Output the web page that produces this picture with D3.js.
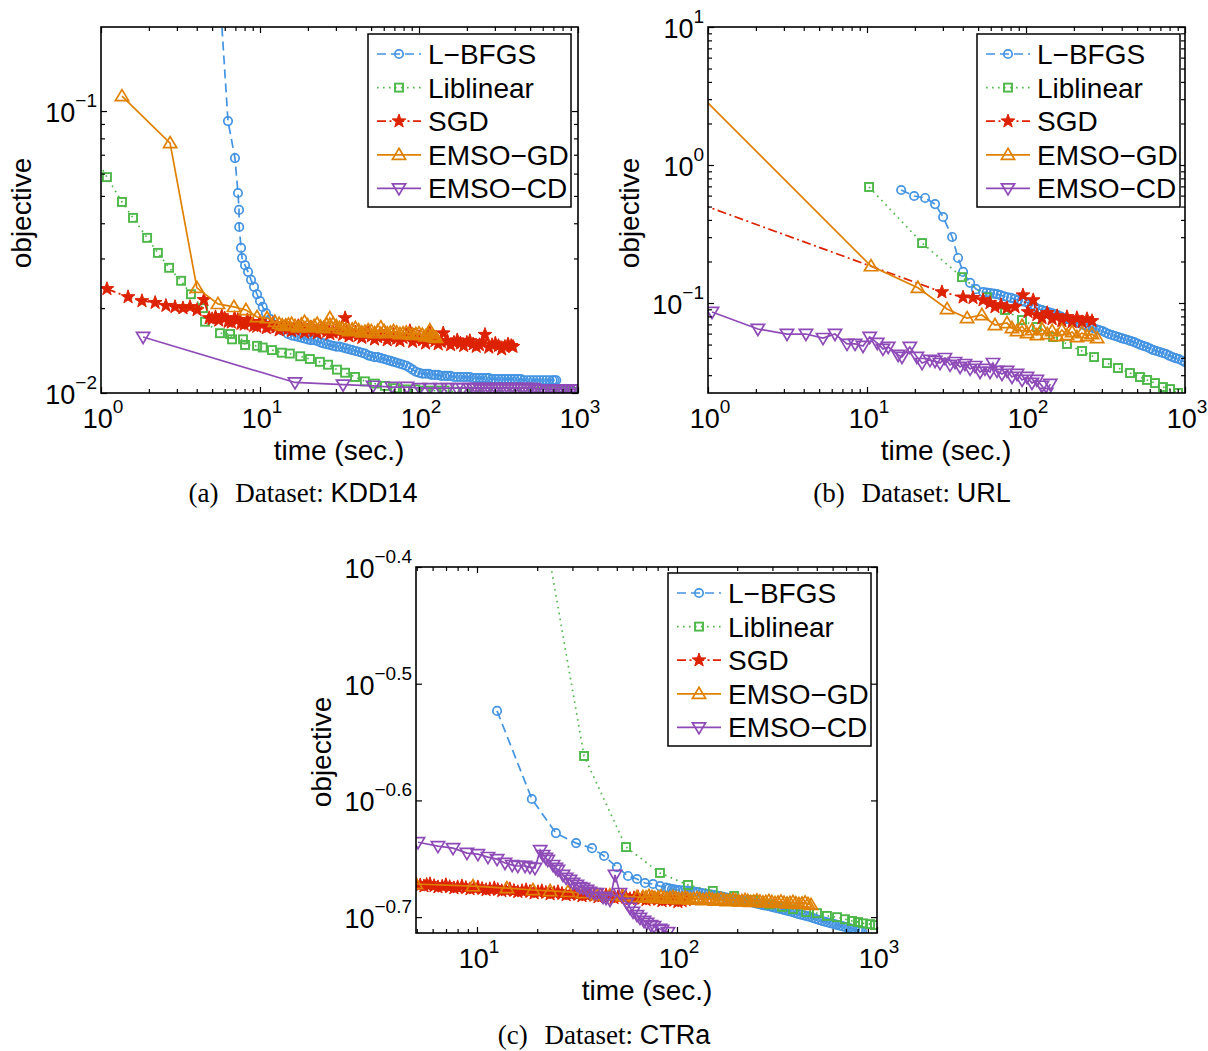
<!DOCTYPE html>
<html><head><meta charset="utf-8">
<script src="https://cdn.jsdelivr.net/npm/d3@7"></script>
<style>body{margin:0;background:#fff}svg{display:block}</style>
</head><body>
<svg id="chart" width="1208" height="1051"></svg>
<script>
// ---------------- DATA ----------------
const seriesNames = ["L\u2212BFGS","Liblinear","SGD","EMSO\u2212GD","EMSO\u2212CD"];

// tick values and labels (exponents of 10)
const xTicksAB = [1,10,100,1000];
const xTickExpAB = ["0","1","2","3"];
const yTicksA = [0.01,0.1];
const yTickExpA = ["\u22122","\u22121"];
const yTicksB = [0.1,1,10];
const yTickExpB = ["\u22121","0","1"];
const xTicksC = [10,100,1000];
const xTickExpC = ["1","2","3"];
const yTicksC = [0.19953,0.25119,0.31623,0.39811];
const yTickExpC = ["\u22120.7","\u22120.6","\u22120.5","\u22120.4"];

// (a) KDD14  [time (sec.), objective]
const kddLbfgs = [[5.4,0.35],[6.29,0.0921],[6.96,0.0681],[7.27,0.0512],[7.38,0.0446],[7.40,0.0388],[7.60,0.0327],[7.71,0.0301],[8.05,0.0284],[8.41,0.0269],[8.78,0.0252],[9.17,0.0238],[9.58,0.0224],[10.0,0.0212],[10.4,0.0202],[10.9,0.0192],[11.6,0.0183],[12.4,0.0174],[13.6,0.0167],[15.0,0.0162],[15.8,0.0160],[16.6,0.0159],[17.4,0.0158],[18.2,0.0157],[19.05,0.0156],[19.95,0.0155],[20.9,0.0154],[21.9,0.0154],[22.9,0.0153],[24.0,0.0151],[25.1,0.0150],[26.3,0.0149],[27.5,0.0148],[28.8,0.0147],[30.2,0.0146],[31.6,0.0146],[33.1,0.0145],[34.7,0.0144],[36.3,0.0143],[38.0,0.0142],[39.8,0.0141],[41.7,0.0140],[43.7,0.0139],[45.7,0.0138],[47.9,0.0136],[50.1,0.0135],[52.5,0.0134],[55.0,0.0134],[57.5,0.0133],[60.3,0.0132],[63.1,0.0131],[66.1,0.0130],[69.2,0.0129],[72.4,0.0128],[75.9,0.0127],[79.4,0.0126],[83.2,0.0125],[87.1,0.0123],[91.2,0.0121],[95.5,0.0119],[100,0.0118],[105,0.0117],[110,0.0117],[115,0.0117],[120,0.0116],[126,0.0116],[132,0.0116],[138,0.0115],[145,0.0115],[151,0.0115],[158,0.0115],[166,0.0114],[174,0.0114],[182,0.0114],[191,0.0114],[200,0.0114],[209,0.0114],[219,0.0113],[229,0.0113],[240,0.0113],[251,0.0113],[263,0.0113],[275,0.0113],[288,0.0112],[302,0.0112],[316,0.0112],[331,0.0112],[347,0.0112],[363,0.0112],[380,0.0112],[398,0.0112],[417,0.0112],[437,0.0112],[457,0.0111],[479,0.0111],[501,0.0111],[525,0.0111],[550,0.0111],[575,0.0111],[603,0.0111],[631,0.0111],[661,0.0111],[692,0.0111],[711,0.0111],[730,0.0111]];
const kddLiblinear = [[0.9,0.07],[1.09,0.0583],[1.355,0.0476],[1.59,0.0418],[1.95,0.0355],[2.28,0.0314],[2.68,0.0278],[3.19,0.0250],[3.68,0.0224],[4.38,0.0200],[4.51,0.0179],[5.6,0.0163],[6.48,0.0162],[6.67,0.0155],[7.82,0.0155],[8.05,0.0148],[9.58,0.0147],[10.4,0.0145],[11.9,0.0142],[13.7,0.0139],[15.4,0.0138],[17.9,0.0135],[20.6,0.0132],[23.8,0.0129],[26.8,0.0126],[30.5,0.0121],[34.3,0.0118],[39.6,0.0114],[45.7,0.0110],[52.8,0.0108],[61.1,0.0106],[70.6,0.0104],[81.6,0.0103],[94.4,0.0103],[109,0.0102],[126,0.0102],[145,0.0102],[168,0.0101],[195,0.0101],[225,0.0101],[260,0.0101],[300,0.0101],[350,0.0101],[400,0.0101],[460,0.0101],[530,0.0101],[610,0.0101],[700,0.0101],[800,0.0101],[920,0.0101]];
const kddSgd = [[1.09,0.0234],[1.48,0.0219],[1.81,0.0212],[2.19,0.0209],[2.56,0.0204],[2.92,0.0202],[3.28,0.0200],[3.63,0.0202],[4.02,0.0197],[4.44,0.0214],[4.79,0.01845],[5.0,0.0183],[5.25,0.0186],[5.5,0.0181],[5.75,0.01875],[6.0,0.0184],[6.31,0.0179],[6.6,0.0178],[6.92,0.01845],[7.25,0.0182],[7.59,0.0176],[7.95,0.0175],[8.32,0.01815],[8.7,0.0178],[9.12,0.0173],[9.55,0.0172],[10,0.0179],[10.5,0.0176],[10.96,0.0170],[11.5,0.0172],[12.0,0.0176],[12.6,0.0171],[13.2,0.0167],[13.8,0.0170],[14.5,0.0174],[15.1,0.0169],[15.8,0.0166],[16.6,0.0168],[17.4,0.0173],[18.2,0.0169],[19.05,0.0164],[19.95,0.0167],[20.9,0.0171],[21.9,0.0166],[22.9,0.0163],[24.0,0.0167],[25.1,0.0170],[26.3,0.0165],[27.5,0.0162],[28.8,0.0164],[30.2,0.0167],[31.6,0.0165],[33.1,0.0161],[34.3,0.01845],[36.3,0.0159],[38.0,0.0162],[39.8,0.0164],[41.7,0.0160],[43.7,0.0157],[45.7,0.0161],[47.9,0.0163],[50.1,0.0159],[52.5,0.0155],[55.0,0.0158],[57.5,0.0162],[60.3,0.0159],[63.1,0.0154],[66.1,0.0157],[69.2,0.0161],[72.4,0.0156],[75.9,0.0153],[79.4,0.0157],[83.2,0.0159],[87.7,0.0166],[91.2,0.0152],[95.5,0.0155],[100,0.0158],[105,0.0154],[110,0.0150],[115,0.0155],[117,0.0163],[120,0.0157],[126,0.0153],[132,0.0149],[138,0.0152],[142,0.0163],[151,0.0153],[158,0.0148],[166,0.0151],[174,0.0154],[182,0.0150],[191,0.0147],[200,0.0151],[209,0.0153],[219,0.0149],[229,0.0146],[240,0.0148],[251,0.0152],[260,0.0161],[275,0.0145],[288,0.0148],[302,0.0150],[316,0.0147],[331,0.0143],[347,0.0146],[363,0.0149],[380,0.0147],[390,0.0146]];
const kddEmsoGd = [[1.355,0.113],[2.72,0.077],[4.01,0.0236],[5.44,0.0207],[6.86,0.0202],[8.16,0.0197],[9.58,0.0186],[11.07,0.01845],[12.4,0.0179],[13.2,0.0176],[13.8,0.0174],[14.5,0.0173],[15.1,0.0175],[15.8,0.0176],[16.6,0.0173],[17.4,0.0171],[18.2,0.0175],[19.05,0.0179],[19.95,0.0174],[20.9,0.0171],[21.9,0.0173],[22.9,0.0176],[24.0,0.0172],[25.1,0.0170],[26.3,0.0175],[27.5,0.01845],[28.8,0.0176],[30.2,0.0173],[31.6,0.0170],[33.1,0.0169],[34.7,0.0168],[36.3,0.0166],[38.0,0.0168],[39.8,0.0170],[41.7,0.0167],[43.7,0.0164],[45.7,0.0165],[47.9,0.0167],[50.1,0.0166],[52.5,0.0163],[55.0,0.0166],[57.5,0.0171],[60.3,0.0166],[63.1,0.0163],[66.1,0.0164],[69.2,0.0166],[72.4,0.0164],[75.9,0.0162],[79.4,0.0163],[83.2,0.0164],[87.1,0.0162],[91.2,0.0161],[95.5,0.0162],[100,0.0163],[105,0.0161],[110,0.0159],[114,0.0162],[117,0.0167],[120,0.0159],[124,0.0158],[128,0.0157]];
const kddEmsoCd = [[1.84,0.0158],[16.6,0.0109],[33.3,0.0107],[51.4,0.0106],[67.6,0.0105],[84,0.0105],[101,0.0104],[117,0.0104],[136,0.0104],[152,0.0104],[173,0.0104],[189,0.0104],[209,0.0104],[219,0.0104],[229,0.0104],[240,0.0104],[251,0.0104],[263,0.0104],[275,0.0104],[288,0.0104],[302,0.0104],[316,0.0104],[331,0.0104],[347,0.0104],[363,0.0104],[380,0.0104],[398,0.0104],[417,0.0104],[437,0.0104],[457,0.0104],[479,0.0104],[501,0.0104],[525,0.0104],[550,0.0103],[575,0.0103],[603,0.0103],[631,0.0103],[661,0.0103],[692,0.0103],[725,0.0103],[759,0.0103],[795,0.0103],[832,0.0103],[871,0.0103],[912,0.0103],[955,0.0103],[1000,0.0103]];

// (b) URL
const urlLbfgs = [[16.4,0.659],[19.8,0.596],[23.2,0.577],[26.8,0.521],[30.1,0.420],[34.3,0.301],[37.4,0.212],[40.2,0.168],[44.5,0.140],[48.5,0.126],[53.7,0.120],[56.5,0.119],[59.4,0.118],[62.5,0.117],[65.7,0.116],[69,0.114],[72.7,0.112],[76.5,0.110],[80.5,0.109],[84.7,0.107],[89.1,0.105],[93.8,0.103],[98.6,0.102],[104,0.0995],[109,0.0968],[114,0.0935],[120,0.0906],[126,0.0890],[132,0.0875],[138,0.0861],[145,0.0847],[151,0.0833],[158,0.0819],[166,0.0798],[174,0.0778],[182,0.0765],[191,0.0753],[200,0.0740],[209,0.0728],[219,0.0710],[229,0.0693],[240,0.0681],[251,0.0670],[263,0.0659],[275,0.0648],[288,0.0637],[302,0.0627],[316,0.0611],[331,0.0596],[347,0.0586],[363,0.0577],[380,0.0567],[398,0.0557],[417,0.0548],[437,0.0539],[457,0.0530],[479,0.0521],[501,0.0509],[525,0.0497],[550,0.0488],[575,0.0480],[603,0.0468],[631,0.0456],[661,0.0449],[692,0.0442],[725,0.0434],[759,0.0427],[795,0.0416],[832,0.0406],[871,0.0399],[912,0.0393],[955,0.0383],[1000,0.0373]];
const urlLiblinear = [[10.3,0.693],[22.2,0.272],[39.6,0.154],[56.9,0.110],[73.8,0.0890],[94.4,0.0753],[117,0.0670],[148,0.0567],[181,0.0505],[225,0.0449],[268,0.0406],[323,0.0367],[379,0.0338],[451,0.0311],[521,0.0291],[577,0.0277],[648,0.0263],[727,0.0246],[805,0.0238],[904,0.0223]];
const urlSgd = [[0.9,0.52],[29.6,0.120],[40.2,0.110],[46.4,0.109],[53.7,0.105],[59.4,0.100],[63.8,0.0936],[69.6,0.0968],[76.0,0.0920],[85.3,0.0936],[95.7,0.114],[103,0.0861],[111,0.105],[117,0.0819],[126,0.0778],[136,0.0847],[146,0.0766],[157,0.0805],[168,0.0741],[181,0.0792],[195,0.0728],[209,0.0778],[225,0.0728],[242,0.0766],[260,0.0741]];
const urlEmsoGd = [[0.9,3.18],[10.6,0.185],[20.9,0.129],[31.9,0.0906],[42.6,0.0778],[52.8,0.0819],[63.8,0.0693],[76.0,0.0716],[81.6,0.0659],[87.8,0.0627],[94.4,0.0681],[101.5,0.0607],[109,0.0637],[117,0.0586],[126,0.0648],[136,0.0596],[146,0.0627],[157,0.0577],[168,0.0637],[181,0.0586],[195,0.0617],[209,0.0567],[225,0.0607],[242,0.0577],[260,0.0596],[280,0.0557]];
const urlEmsoCd = [[1.06,0.0861],[2.06,0.0648],[3.14,0.0596],[4.13,0.0596],[5.29,0.0557],[6.29,0.0596],[7.48,0.0505],[8.41,0.0505],[9.44,0.0488],[10.4,0.0567],[11.6,0.0513],[12.6,0.0465],[13.6,0.0480],[15.7,0.0420],[16.6,0.0406],[18.6,0.0480],[20.6,0.0406],[22.2,0.0367],[24.9,0.0386],[26.8,0.0380],[28.8,0.0367],[30.9,0.0399],[33.3,0.0356],[35.8,0.0373],[38.5,0.0344],[41.3,0.0361],[44.5,0.0333],[47.8,0.0349],[51.4,0.0316],[55.2,0.0333],[59.4,0.0316],[62.0,0.0367],[65.7,0.0322],[70.6,0.0306],[76.0,0.0322],[81.6,0.0291],[87.8,0.0306],[94.4,0.0277],[101.5,0.0291],[109,0.0263],[117,0.0277],[126,0.0251],[134,0.0223],[142,0.0259]];

// (c) CTRa
const ctraLbfgs = [[12.6,0.2997],[18.8,0.2519],[24.8,0.2355],[31.3,0.2309],[37.6,0.2286],[43.2,0.2251],[50.1,0.2202],[56.9,0.2164],[63.1,0.2151],[69.2,0.2134],[75.9,0.2130],[82.2,0.2121],[88.1,0.2115],[91.2,0.2112],[94.4,0.2109],[97.7,0.2107],[101,0.2105],[104,0.2104],[108,0.2103],[112,0.2102],[116,0.2101],[120,0.2099],[124,0.2097],[128,0.2095],[133,0.2092],[138,0.2090],[143,0.2088],[148,0.2086],[153,0.2084],[158,0.2082],[164,0.2080],[170,0.2077],[176,0.2074],[182,0.2072],[188,0.2070],[195,0.2067],[202,0.2064],[209,0.2062],[216,0.2060],[224,0.2058],[232,0.2056],[240,0.2053],[248,0.2050],[257,0.2047],[266,0.2044],[275,0.2042],[285,0.2040],[295,0.2037],[305,0.2034],[316,0.2031],[327,0.2028],[339,0.2025],[351,0.2022],[363,0.2019],[376,0.2016],[389,0.2012],[403,0.2008],[417,0.2005],[432,0.2002],[447,0.1999],[462,0.1996],[478,0.1992],[495,0.1988],[513,0.1984],[531,0.1980],[550,0.1977],[569,0.1974],[589,0.1971],[610,0.1968],[631,0.1965],[653,0.1962],[676,0.1959],[700,0.1956],[725,0.1953],[750,0.1950],[777,0.1947],[804,0.1945],[822,0.1943],[841,0.1941]];
const ctraLiblinear = [[20.5,0.454],[34.3,0.2742],[55.6,0.2291],[82.2,0.2177],[113.5,0.2126],[151,0.2101],[193,0.2080],[240,0.2064],[290,0.2046],[335,0.2036],[380,0.2027],[442,0.2015],[501,0.2011],[562,0.2000],[631,0.1995],[692,0.1987],[750,0.1980],[804,0.1976],[851,0.1971],[923,0.1968],[977,0.1964]];
const ctraSgd = [[4.95,0.2130],[5.2,0.2125],[5.43,0.2121],[5.6,0.2127],[5.82,0.2130],[6.1,0.2122],[6.38,0.2117],[6.7,0.2120],[6.99,0.2126],[7.3,0.2118],[7.67,0.2113],[8.0,0.2117],[8.41,0.2121],[8.8,0.2114],[9.23,0.2109],[9.65,0.2113],[10.1,0.2117],[10.6,0.2110],[11.1,0.2105],[11.6,0.2109],[12.2,0.2113],[12.7,0.2106],[13.3,0.2101],[13.9,0.2105],[14.6,0.2109],[15.3,0.2102],[16.0,0.2097],[16.8,0.2101],[17.6,0.2105],[18.4,0.2098],[19.3,0.2092],[20.2,0.2097],[21.1,0.2101],[22.1,0.2094],[23.2,0.2088],[24.3,0.2093],[25.4,0.2097],[26.6,0.2090],[27.9,0.2084],[29.2,0.2088],[30.5,0.2092],[32.0,0.2086],[33.5,0.2080],[35.1,0.2084],[36.7,0.2088],[38.5,0.2082],[40.3,0.2076],[42.2,0.2080],[44.2,0.2084],[46.3,0.2078],[48.4,0.2072],[50.7,0.2076],[53.1,0.2080],[55.6,0.2074],[58.2,0.2068],[61.0,0.2072],[63.8,0.2076],[66.8,0.2070],[70.0,0.2064],[73.3,0.2068],[76.7,0.2072],[80.4,0.2066],[84.1,0.2060],[88.1,0.2064],[92.3,0.2068],[96.6,0.2062],[101,0.2056],[106,0.2060],[111,0.2064]];
const ctraEmsoGd = [[4.95,0.2130],[9.55,0.2121],[14.1,0.2113],[19.05,0.2105],[23.2,0.2101],[28.5,0.2097],[33.9,0.2092],[39.8,0.2084],[46.2,0.2084],[53.7,0.2080],[63.1,0.2076],[67.6,0.2076],[70,0.2074],[72.4,0.2080],[75,0.2076],[77.6,0.2072],[80.4,0.2074],[83.2,0.2078],[86.1,0.2073],[89.1,0.2070],[92.3,0.2072],[95.5,0.2076],[98.7,0.2072],[102,0.2068],[106,0.2070],[110,0.2074],[113,0.2069],[117,0.2066],[121,0.2068],[126,0.2072],[130,0.2068],[135,0.2064],[140,0.2066],[145,0.2070],[150,0.2066],[155,0.2062],[160,0.2064],[166,0.2068],[172,0.2064],[178,0.2060],[184,0.2062],[191,0.2066],[197,0.2062],[204,0.2058],[211,0.2060],[219,0.2064],[226,0.2060],[234,0.2056],[242,0.2058],[251,0.2062],[260,0.2058],[269,0.2054],[278,0.2056],[288,0.2060],[298,0.2056],[309,0.2052],[320,0.2054],[331,0.2058],[343,0.2053],[355,0.2050],[367,0.2052],[380,0.2056],[393,0.2051],[407,0.2048],[422,0.2050],[437,0.2054],[452,0.2048],[468,0.2044]];
const ctraEmsoCd = [[5.07,0.2313],[6.38,0.2295],[7.59,0.2286],[8.91,0.2264],[10.1,0.2259],[11.35,0.2246],[12.6,0.2237],[13.8,0.2220],[15.0,0.2211],[16.0,0.2207],[17.4,0.2207],[18.4,0.2202],[19.5,0.2198],[20.7,0.2277],[21.4,0.2255],[22.1,0.2242],[22.6,0.2233],[24.0,0.2211],[24.8,0.2198],[25.4,0.2190],[26.9,0.2168],[27.9,0.2156],[29.2,0.2147],[30.2,0.2134],[31.6,0.2126],[32.7,0.2117],[33.9,0.2113],[35.5,0.2105],[36.7,0.2097],[38.5,0.2092],[39.8,0.2092],[42.7,0.2076],[44.2,0.2072],[46.2,0.2064],[49.0,0.2168],[51.9,0.2092],[56.2,0.2052],[58.2,0.2032],[60.3,0.2016],[63.1,0.2003],[65.3,0.1992],[68.4,0.1980],[70.8,0.1972],[74.1,0.1964],[76.7,0.1960],[82.2,0.1949],[84.1,0.1945],[90.2,0.1937]];

// ---------------- STYLE / LAYOUT ----------------
const SANS = "'Liberation Sans', Arial, Helvetica, sans-serif";
const SERIF = "'Liberation Serif', 'Times New Roman', serif";
const seriesStyles = [
  {color:"#4393E2", dash:"9,5", marker:"circle"},
  {color:"#4DB849", dash:"1.6,4.4", marker:"square"},
  {color:"#DD2200", dash:"9,3.5,2,3.5", marker:"star"},
  {color:"#E08000", dash:null, marker:"tri"},
  {color:"#8E4BB8", dash:null, marker:"tridown"}
];

function minorLog(lo, hi){
  const out=[];
  for(let k=Math.floor(Math.log10(lo)); k<=Math.ceil(Math.log10(hi)); k++){
    for(let m=2;m<=9;m++){ const v=m*Math.pow(10,k); if(v>lo*1.003 && v<hi/1.003) out.push(v); }
  }
  return out;
}

const panels = [
  {id:"a", box:{l:101,r:578,t:27,b:393}, xDomain:[1,1000], yDomain:[0.01,0.19865],
   xTicks:xTicksAB, xExp:xTickExpAB, yTicks:yTicksA, yExp:yTickExpA, yMinorOn:true,
   data:[kddLbfgs,kddLiblinear,kddSgd,kddEmsoGd,kddEmsoCd],
   legend:{x:368,y:34}, ylabel:{x:31,y:213}, xlabel:{x:339,y:460}, caption:{x:303,y:502,tag:"(a)",name:"KDD14"}},
  {id:"b", box:{l:708,r:1185,t:27,b:393}, xDomain:[1,1000], yDomain:[0.02228,10],
   xTicks:xTicksAB, xExp:xTickExpAB, yTicks:yTicksB, yExp:yTickExpB, yMinorOn:true,
   data:[urlLbfgs,urlLiblinear,urlSgd,urlEmsoGd,urlEmsoCd],
   legend:{x:977,y:34}, ylabel:{x:639,y:213}, xlabel:{x:946,y:460}, caption:{x:912,y:502,tag:"(b)",name:"URL"}},
  {id:"c", box:{l:416,r:877,t:567,b:933}, xDomain:[4.955,1000], yDomain:[0.19337,0.39811],
   xTicks:xTicksC, xExp:xTickExpC, yTicks:yTicksC, yExp:yTickExpC, yMinorOn:false,
   data:[ctraLbfgs,ctraLiblinear,ctraSgd,ctraEmsoGd,ctraEmsoCd],
   legend:{x:668,y:573}, ylabel:{x:331,y:752}, xlabel:{x:647,y:1000}, caption:{x:604,y:1044,tag:"(c)",name:"CTRa"}}
];

const svg = d3.select("#chart");
svg.append("rect").attr("width",1208).attr("height",1051).attr("fill","#fff");
const defs = svg.append("defs");

function starPath(R, r){
  let p="";
  for(let i=0;i<10;i++){
    const a=-Math.PI/2+i*Math.PI/5, rad=(i%2)?r:R;
    p+=(i?"L":"M")+(rad*Math.cos(a)).toFixed(2)+","+(rad*Math.sin(a)).toFixed(2);
  }
  return p+"Z";
}
const STAR = starPath(7.2,2.9);
const TRI = "M0,-6.5L6.6,4.6L-6.6,4.6Z";
const TRID = "M0,6.5L6.6,-4.6L-6.6,-4.6Z";

function addMarkers(g, pts, st){
  const sel = g.selectAll(null).data(pts);
  if(st.marker==="circle"){
    sel.join("circle").attr("cx",d=>d[0]).attr("cy",d=>d[1]).attr("r",4.2)
      .attr("fill","none").attr("stroke",st.color).attr("stroke-width",1.7);
  } else if(st.marker==="square"){
    sel.join("rect").attr("x",d=>d[0]-4).attr("y",d=>d[1]-4).attr("width",8).attr("height",8)
      .attr("fill","none").attr("stroke",st.color).attr("stroke-width",1.9);
  } else {
    const path = st.marker==="star"?STAR:(st.marker==="tri"?TRI:TRID);
    sel.join("path").attr("d",path).attr("transform",d=>`translate(${d[0]},${d[1]})`)
      .attr("fill",st.marker==="star"?st.color:"none")
      .attr("stroke",st.color).attr("stroke-width",st.marker==="star"?1:1.7).attr("stroke-linejoin","miter");
  }
}

function supLabel(g, x, y, exp, anchor){
  const t = g.append("text").attr("x",x).attr("y",y).attr("text-anchor",anchor)
    .attr("font-family",SANS).attr("font-size",27).attr("fill","#000");
  t.append("tspan").text("10");
  t.append("tspan").attr("dy",-15).attr("font-size",19).text(exp);
}

panels.forEach(P=>{
  const B=P.box;
  const x = d3.scaleLog().domain(P.xDomain).range([B.l,B.r]);
  const y = d3.scaleLog().domain(P.yDomain).range([B.b,B.t]);
  const g = svg.append("g");

  defs.append("clipPath").attr("id","clip"+P.id).append("rect")
    .attr("x",B.l).attr("y",B.t).attr("width",B.r-B.l).attr("height",B.b-B.t);

  const dg = g.append("g").attr("clip-path",`url(#clip${P.id})`);
  const line = d3.line().x(d=>x(d[0])).y(d=>y(d[1]));
  P.data.forEach((ser,i)=>{
    const st=seriesStyles[i];
    const sg = dg.append("g");
    sg.append("path").attr("d",line(ser)).attr("fill","none").attr("stroke",st.color)
      .attr("stroke-width",1.7).attr("stroke-dasharray",st.dash).attr("stroke-linecap","butt");
    addMarkers(sg, ser.map(d=>[x(d[0]),y(d[1])]), st);
  });

  const xMinor = minorLog(P.xDomain[0],P.xDomain[1]);
  const yMinor = P.yMinorOn ? minorLog(P.yDomain[0],P.yDomain[1]) : [];
  const axG = g.append("g");
  const clean = s=>{s.select(".domain").remove(); s.selectAll("text").remove(); s.selectAll("line").attr("stroke","#000").attr("stroke-width",1.2);};
  axG.append("g").attr("transform",`translate(0,${B.b})`).call(d3.axisBottom(x).tickValues(P.xTicks).tickSize(-6).tickFormat("")).call(clean);
  axG.append("g").attr("transform",`translate(0,${B.b})`).call(d3.axisBottom(x).tickValues(xMinor).tickSize(-4).tickFormat("")).call(clean);
  axG.append("g").attr("transform",`translate(0,${B.t})`).call(d3.axisTop(x).tickValues(P.xTicks).tickSize(-6).tickFormat("")).call(clean);
  axG.append("g").attr("transform",`translate(0,${B.t})`).call(d3.axisTop(x).tickValues(xMinor).tickSize(-4).tickFormat("")).call(clean);
  axG.append("g").attr("transform",`translate(${B.l},0)`).call(d3.axisLeft(y).tickValues(P.yTicks).tickSize(-6).tickFormat("")).call(clean);
  axG.append("g").attr("transform",`translate(${B.l},0)`).call(d3.axisLeft(y).tickValues(yMinor).tickSize(-4).tickFormat("")).call(clean);
  axG.append("g").attr("transform",`translate(${B.r},0)`).call(d3.axisRight(y).tickValues(P.yTicks).tickSize(-6).tickFormat("")).call(clean);
  axG.append("g").attr("transform",`translate(${B.r},0)`).call(d3.axisRight(y).tickValues(yMinor).tickSize(-4).tickFormat("")).call(clean);
  g.append("rect").attr("x",B.l).attr("y",B.t).attr("width",B.r-B.l).attr("height",B.b-B.t)
    .attr("fill","none").attr("stroke","#000").attr("stroke-width",1.6);

  P.xTicks.forEach((v,i)=>supLabel(g, x(v)+2, B.b+35, P.xExp[i], "middle"));
  P.yTicks.forEach((v,i)=>supLabel(g, B.l-4, y(v)+11, P.yExp[i], "end"));

  g.append("text").attr("x",P.xlabel.x).attr("y",P.xlabel.y).attr("text-anchor","middle")
    .attr("font-family",SANS).attr("font-size",28).text("time (sec.)");
  g.append("text").attr("transform",`translate(${P.ylabel.x},${P.ylabel.y}) rotate(-90)`).attr("text-anchor","middle")
    .attr("font-family",SANS).attr("font-size",28).text("objective");

  const L=P.legend, lg=g.append("g");
  lg.append("rect").attr("x",L.x).attr("y",L.y).attr("width",203).attr("height",173)
    .attr("fill","#fff").attr("stroke","#000").attr("stroke-width",1.5);
  seriesNames.forEach((n,i)=>{
    const st=seriesStyles[i], cy=L.y+20+i*33.6;
    lg.append("line").attr("x1",L.x+9).attr("x2",L.x+53).attr("y1",cy).attr("y2",cy)
      .attr("stroke",st.color).attr("stroke-width",1.7).attr("stroke-dasharray",st.dash);
    addMarkers(lg, [[L.x+31,cy]], st);
    lg.append("text").attr("x",L.x+60).attr("y",cy+10).attr("font-family",SANS).attr("font-size",28).text(n);
  });

  const C=P.caption;
  const ct=svg.append("text").attr("x",C.x).attr("y",C.y).attr("text-anchor","middle").attr("font-size",27);
  ct.append("tspan").attr("font-family",SERIF).text(C.tag);
  ct.append("tspan").attr("font-family",SERIF).attr("dx",10).text(" Dataset: ");
  ct.append("tspan").attr("font-family",SANS).text(C.name);
});
</script>
</body></html>
